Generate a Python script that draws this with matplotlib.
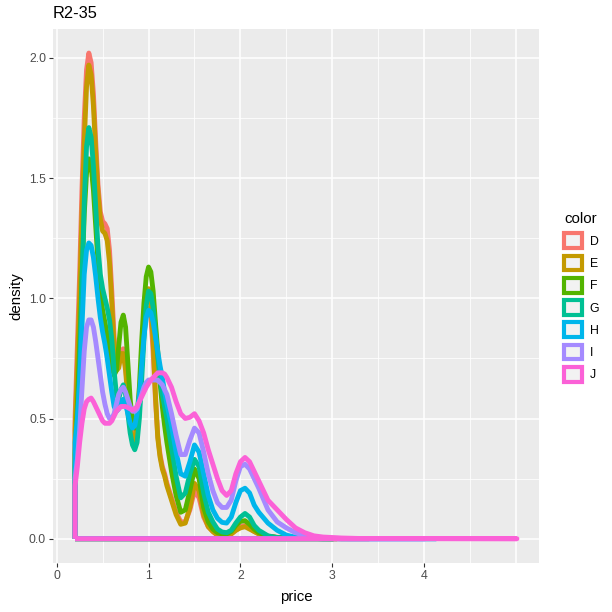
import matplotlib.pyplot as plt
from matplotlib.patches import Patch

plt.rcParams['font.family'] = ['Liberation Sans', 'DejaVu Sans']

# density outlines, one list per diamond colour
carat = [0.200, 0.225, 0.250, 0.275, 0.300, 0.325, 0.350, 0.375, 0.400, 0.425,
         0.450, 0.475, 0.500, 0.525, 0.550, 0.575, 0.600, 0.625, 0.650, 0.675,
         0.700, 0.725, 0.750, 0.775, 0.800, 0.825, 0.850, 0.875, 0.900, 0.925,
         0.950, 0.975, 1.000, 1.025, 1.050, 1.075, 1.100, 1.125, 1.150, 1.175,
         1.20, 1.25, 1.30, 1.35, 1.40, 1.45, 1.50, 1.55, 1.60, 1.65,
         1.70, 1.75, 1.80, 1.85, 1.90, 1.95, 2.00, 2.05, 2.10, 2.15,
         2.2, 2.3, 2.4, 2.5, 2.6, 2.7, 2.8, 2.9, 3.0, 3.1, 3.2, 3.3]

dens_D = [0.50, 0.80, 1.10, 1.45, 1.75, 1.95, 2.02, 1.98, 1.85, 1.65,
          1.47, 1.36, 1.32, 1.31, 1.29, 1.20, 1.03, 0.84, 0.72, 0.72,
          0.78, 0.79, 0.72, 0.60, 0.49, 0.43, 0.42, 0.47, 0.57, 0.72,
          0.85, 0.94, 0.96, 0.92, 0.78, 0.58, 0.43, 0.35, 0.30, 0.27,
          0.23, 0.17, 0.11, 0.07, 0.07, 0.12, 0.20, 0.17, 0.09, 0.05,
          0.03, 0.015, 0.01, 0.01, 0.02, 0.035, 0.05, 0.055, 0.045, 0.03,
          0.02, 0.01, 0.006, 0.004, 0.003, 0.002, 0.001, 0.001, 0.001, 0.0, 0.0, 0.0]
dens_E = [0.45, 0.72, 1.00, 1.35, 1.65, 1.88, 1.97, 1.93, 1.80, 1.61,
          1.44, 1.33, 1.28, 1.27, 1.24, 1.15, 0.98, 0.80, 0.70, 0.71,
          0.77, 0.77, 0.70, 0.58, 0.47, 0.41, 0.40, 0.46, 0.57, 0.75,
          0.90, 1.00, 1.04, 0.98, 0.82, 0.60, 0.42, 0.34, 0.29, 0.26,
          0.22, 0.16, 0.10, 0.06, 0.065, 0.13, 0.23, 0.20, 0.10, 0.05,
          0.03, 0.015, 0.01, 0.01, 0.02, 0.035, 0.045, 0.05, 0.04, 0.03,
          0.02, 0.01, 0.005, 0.003, 0.002, 0.001, 0.001, 0.001, 0.0, 0.0, 0.0, 0.0]
dens_F = [0.35, 0.55, 0.80, 1.08, 1.35, 1.52, 1.58, 1.55, 1.45, 1.30,
          1.15, 1.03, 0.95, 0.90, 0.85, 0.79, 0.72, 0.68, 0.70, 0.80,
          0.90, 0.93, 0.88, 0.73, 0.58, 0.49, 0.46, 0.51, 0.63, 0.82,
          0.98, 1.09, 1.13, 1.11, 1.03, 0.90, 0.78, 0.65, 0.55, 0.47,
          0.40, 0.28, 0.18, 0.11, 0.12, 0.20, 0.29, 0.25, 0.13, 0.07,
          0.04, 0.025, 0.02, 0.02, 0.03, 0.055, 0.072, 0.075, 0.06, 0.04,
          0.025, 0.01, 0.005, 0.003, 0.002, 0.001, 0.001, 0.0, 0.0, 0.0, 0.0, 0.0]
dens_G = [0.30, 0.45, 0.70, 1.05, 1.40, 1.63, 1.71, 1.67, 1.55, 1.38,
          1.21, 1.10, 1.04, 1.00, 0.96, 0.91, 0.83, 0.70, 0.60, 0.58,
          0.62, 0.64, 0.60, 0.52, 0.44, 0.39, 0.37, 0.40, 0.50, 0.66,
          0.83, 0.97, 1.03, 1.02, 0.96, 0.86, 0.76, 0.67, 0.60, 0.55,
          0.50, 0.38, 0.26, 0.17, 0.19, 0.27, 0.33, 0.30, 0.19, 0.11,
          0.07, 0.04, 0.028, 0.025, 0.035, 0.065, 0.09, 0.105, 0.09, 0.055,
          0.035, 0.012, 0.005, 0.003, 0.002, 0.001, 0.001, 0.0, 0.0, 0.0, 0.0, 0.0]
dens_H = [0.40, 0.50, 0.65, 0.88, 1.10, 1.20, 1.23, 1.22, 1.17, 1.09,
          1.00, 0.92, 0.86, 0.81, 0.75, 0.68, 0.61, 0.55, 0.53, 0.54,
          0.57, 0.58, 0.56, 0.52, 0.48, 0.46, 0.47, 0.52, 0.60, 0.72,
          0.84, 0.92, 0.95, 0.94, 0.90, 0.84, 0.78, 0.72, 0.67, 0.61,
          0.56, 0.47, 0.36, 0.27, 0.26, 0.32, 0.39, 0.36, 0.27, 0.18,
          0.12, 0.085, 0.068, 0.065, 0.09, 0.15, 0.20, 0.21, 0.19, 0.14,
          0.11, 0.065, 0.035, 0.015, 0.006, 0.003, 0.002, 0.001, 0.001, 0.0, 0.0, 0.0]
dens_I = [0.25, 0.33, 0.45, 0.62, 0.78, 0.88, 0.91, 0.91, 0.88, 0.82,
          0.75, 0.68, 0.61, 0.56, 0.52, 0.50, 0.50, 0.52, 0.56, 0.60,
          0.62, 0.63, 0.61, 0.58, 0.55, 0.53, 0.53, 0.54, 0.57, 0.60,
          0.63, 0.65, 0.66, 0.66, 0.66, 0.66, 0.66, 0.65, 0.64, 0.62,
          0.60, 0.52, 0.43, 0.35, 0.35, 0.41, 0.46, 0.44, 0.36, 0.27,
          0.20, 0.15, 0.13, 0.13, 0.16, 0.24, 0.30, 0.31, 0.29, 0.25,
          0.21, 0.12, 0.07, 0.045, 0.025, 0.012, 0.005, 0.003, 0.002, 0.001, 0.0, 0.0]
dens_J = [0.22, 0.30, 0.40, 0.48, 0.54, 0.57, 0.58, 0.585, 0.57, 0.55,
          0.53, 0.51, 0.49, 0.48, 0.48, 0.48, 0.49, 0.51, 0.53, 0.54,
          0.55, 0.55, 0.55, 0.545, 0.54, 0.535, 0.54, 0.55, 0.57, 0.59,
          0.61, 0.63, 0.645, 0.66, 0.67, 0.68, 0.69, 0.69, 0.69, 0.685,
          0.67, 0.63, 0.57, 0.52, 0.50, 0.505, 0.52, 0.49, 0.44, 0.37,
          0.31, 0.25, 0.20, 0.18, 0.20, 0.27, 0.32, 0.338, 0.32, 0.28,
          0.24, 0.16, 0.12, 0.08, 0.045, 0.025, 0.012, 0.007, 0.005, 0.003, 0.002, 0.001]

colors = ['D', 'E', 'F', 'G', 'H', 'I', 'J']
max_carat = [3.40, 3.05, 3.01, 3.01, 4.13, 4.01, 5.01]
densities = [dens_D, dens_E, dens_F, dens_G, dens_H, dens_I, dens_J]
palette = ['#F8766D', '#C49A00', '#53B400', '#00C094', '#00B6EB', '#A58AFF', '#FB61D7']

fig = plt.figure(figsize=(6.12, 6.12), dpi=100)
ax = fig.add_axes([53/612, 49/612, 486/612, 534/612])
ax.set_facecolor('#EBEBEB')

# each density is a closed outline: up the left edge, along the curve, back along y=0
for dens, xmax, col in zip(densities, max_carat, palette):
    xs = [x for x in carat if x <= xmax]
    ys = dens[:len(xs)]
    xs = [xs[0]] + xs + [xmax, xmax, xs[0]]
    ys = [0] + ys + [0, 0, 0]
    ax.plot(xs, ys, color=col, lw=3.5, solid_joinstyle='round', solid_capstyle='butt')

ax.set_xlim(-0.04, 5.25)
ax.set_ylim(-0.101, 2.12)

# ggplot-like grid
ax.set_xticks([0, 1, 2, 3, 4, 5])
ax.set_xticklabels(['0', '1', '2', '3', '4', ''])
ax.set_xticks([0.5, 1.5, 2.5, 3.5, 4.5], minor=True)
ax.set_yticks([0, 0.5, 1.0, 1.5, 2.0])
ax.set_yticklabels(['0.0', '0.5', '1.0', '1.5', '2.0'])
ax.set_yticks([0.25, 0.75, 1.25, 1.75], minor=True)
ax.grid(which='major', color='white', lw=1.1)
ax.grid(which='minor', color='white', lw=0.55)
ax.set_axisbelow(True)
ax.tick_params(which='major', length=3, width=0.8, color='#333333',
               labelcolor='#4D4D4D', labelsize=8.8, pad=2)
ax.tick_params(which='minor', length=0)
ax.xaxis.get_major_ticks()[-1].tick1line.set_visible(False)

for location in ['left', 'right', 'top', 'bottom']:
    ax.spines[location].set_visible(False)

ax.set_xlabel('price', fontsize=10.8, labelpad=6)
ax.set_ylabel('density', fontsize=10.8, labelpad=4)
ax.set_title('R2-35', loc='left', fontsize=11.8, pad=8)

# legend with grey keys and coloured borders
handles = [Patch(facecolor='#F2F2F2', edgecolor=c, lw=3.0) for c in palette]
fig.legend(handles, colors, title='color', loc='center left',
           bbox_to_anchor=(553/612, 0.515), frameon=False,
           fontsize=8.8, title_fontsize=10.8, handlelength=1.5, handleheight=1.5,
           labelspacing=0.6, handletextpad=0.6, alignment='left')

fig.savefig('out.png', dpi=100)
